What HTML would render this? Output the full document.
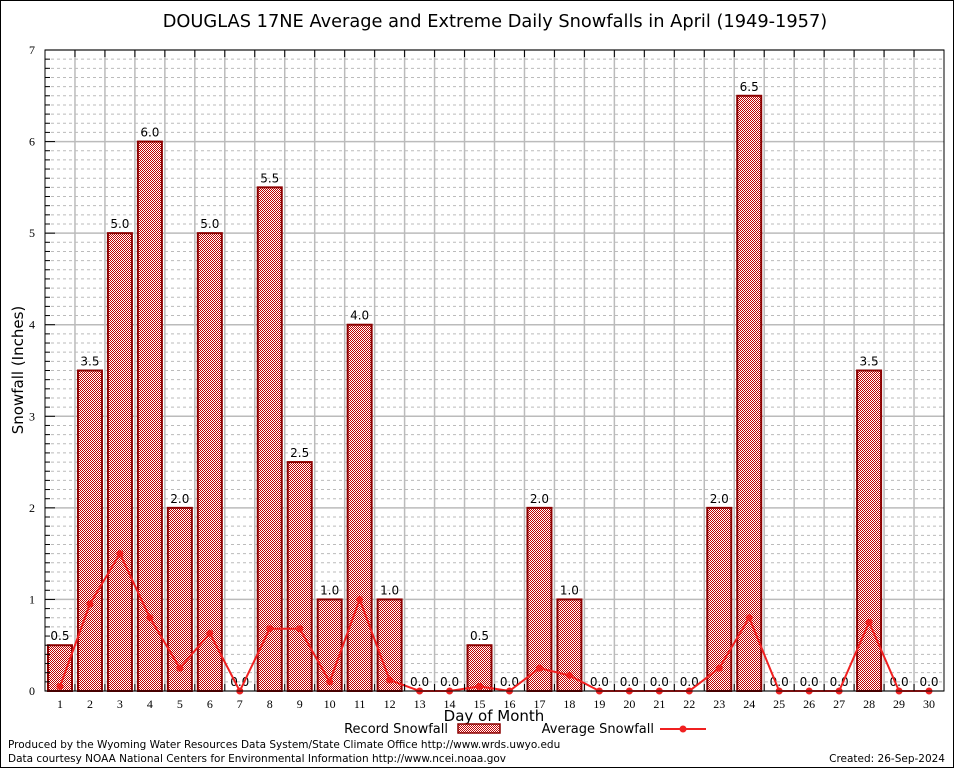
<!DOCTYPE html>
<html><head><meta charset="utf-8"><style>
body{margin:0;background:#fff;}
svg{display:block;font-family:"DejaVu Sans","Liberation Sans",sans-serif;}
</style></head><body>
<svg id="chart" width="954" height="768">
<defs>
<pattern id="chk" width="2" height="2" patternUnits="userSpaceOnUse">
<rect width="2" height="2" fill="#fff"/><rect width="1" height="1" fill="#c00000"/><rect x="1" y="1" width="1" height="1" fill="#c00000"/>
</pattern>
</defs>
<rect x="0.5" y="0.5" width="953" height="767" fill="#fff" stroke="#000"/>
<text x="495" y="27" font-size="17.8" text-anchor="middle">DOUGLAS 17NE Average and Extreme Daily Snowfalls in April (1949-1957)</text>
<g id="grid"></g>
<g id="bars"></g>
<g id="line"></g>
<g id="axes"></g>
<text x="23" y="370" font-size="15" text-anchor="middle" transform="rotate(-90 23 370)">Snowfall (Inches)</text>
<text x="494" y="721" font-size="15" text-anchor="middle">Day of Month</text>
<g>
<text x="448" y="733" font-size="13" text-anchor="end">Record Snowfall</text>
<rect x="458" y="724" width="42" height="9" fill="url(#chk)" stroke="#8b0000" stroke-width="1.5"/>
<text x="654" y="733" font-size="13" text-anchor="end">Average Snowfall</text>
<line x1="660" y1="729" x2="706" y2="729" stroke="#f02020" stroke-width="2"/>
<circle cx="683" cy="729" r="3.5" fill="#f02020"/>
</g>
<text x="8" y="748" font-size="10.5">Produced by the Wyoming Water Resources Data System/State Climate Office http://www.wrds.uwyo.edu</text>
<text x="8" y="762" font-size="10.5">Data courtesy NOAA National Centers for Environmental Information http://www.ncei.noaa.gov</text>
<text x="945" y="762" font-size="10.5" text-anchor="end">Created:  26-Sep-2024</text>
</svg>
<script>
const days=[1,2,3,4,5,6,7,8,9,10,11,12,13,14,15,16,17,18,19,20,21,22,23,24,25,26,27,28,29,30];
const recordValues=[0.5,3.5,5,6,2,5,0,5.5,2.5,1,4,1,0,0,0.5,0,2,1,0,0,0,0,2,6.5,0,0,0,3.5,0,0];
const averageValues=[0.05,0.95,1.5,0.8,0.25,0.63,0,0.68,0.68,0.1,1.0,0.12,0,0,0.05,0,0.25,0.17,0,0,0,0,0.25,0.8,0,0,0,0.75,0,0];
const yTicks=[0,1,2,3,4,5,6,7];
const NS='http://www.w3.org/2000/svg';
const L=45,R=944,T=50,B=691,yMax=7;
const x=d=>L+(d-0.5)*(R-L)/30;
const y=v=>B-v*(B-T)/yMax;
function mk(tag,attrs,parent){const e=document.createElementNS(NS,tag);for(const k in attrs)e.setAttribute(k,attrs[k]);parent.appendChild(e);return e;}
const grid=document.getElementById('grid'),bars=document.getElementById('bars'),line=document.getElementById('line'),axes=document.getElementById('axes');
for(let i=0;i<yMax*10;i++){if(i%10===0)continue;const yy=y(i/10);
const g=mk('line',{x1:L,x2:R,y1:yy,y2:yy,stroke:'#bbb','stroke-dasharray':'3,3'},grid);


const t=mk('line',{x1:L,x2:L+5,y1:yy,y2:yy,stroke:'#000'},axes);

}
yTicks.forEach(v=>{const yy=y(v);
const g=mk('line',{x1:L,x2:R,y1:yy,y2:yy,stroke:'#bbb','stroke-width':1.5},grid);


const t=mk('text',{x:L-10,y:yy+4,'font-size':12,'text-anchor':'end','font-family':'Liberation Serif,serif'},axes);t.textContent=v;


const tk=mk('line',{x1:L,x2:L+10,y1:yy,y2:yy,stroke:'#000'},axes);

});
for(let k=1;k<30;k++){const xx=L+k*(R-L)/30;
const g=mk('line',{x1:xx,x2:xx,y1:T,y2:B,stroke:'#bbb','stroke-width':1.5},grid);


const t1=mk('line',{x1:xx,x2:xx,y1:T,y2:T+7,stroke:'#000'},axes);


const t2=mk('line',{x1:xx,x2:xx,y1:B,y2:B-7,stroke:'#000'},axes);

}
days.forEach((d,i)=>{const v=recordValues[i];const cx=x(d);
if(v>0){const r=mk('rect',{x:cx-12,y:y(v),width:24,height:B-y(v),fill:'url(#chk)',stroke:'#8b0000','stroke-width':2},bars);

}
const lb=mk('text',{x:cx,y:y(v)-5,'font-size':12,'text-anchor':'middle'},bars);lb.textContent=v.toFixed(1);


const xl=mk('text',{x:cx,y:B+17,'font-size':12,'text-anchor':'middle','font-family':'Liberation Serif,serif'},axes);xl.textContent=d;

});
const pts=days.map((d,i)=>x(d)+','+y(averageValues[i])).join(' ');
const pl=mk('polyline',{points:pts,fill:'none',stroke:'#f02020','stroke-width':2},line);


days.forEach((d,i)=>{const c=mk('circle',{cx:x(d),cy:y(averageValues[i]),r:3.5,fill:'#f02020'},line);

});
const fr=mk('rect',{x:L,y:T,width:R-L,height:B-T,fill:'none',stroke:'#000'},axes);


</script>
</body></html>
